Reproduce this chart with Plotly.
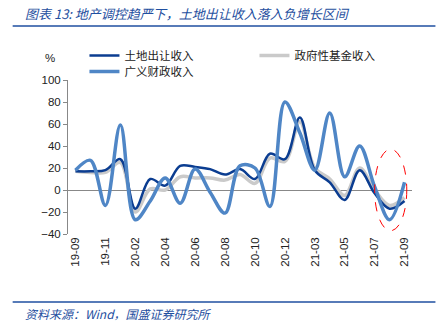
import plotly.graph_objects as go

months = ["19-09", "19-10", "19-11", "19-12", "20-02", "20-03", "20-04", "20-05",
          "20-06", "20-07", "20-08", "20-09", "20-10", "20-11", "20-12", "21-02",
          "21-03", "21-04", "21-05", "21-06", "21-07", "21-08", "21-09"]
land = [17, 17, 18, 28, -17, 10, 4, 22, 21, 19, 14, 19, 10, 33, 28, 66,
        18, 7, -9, 18, -3, -17, -10]
fund = [17, 16, 16, 25, -20, 1, 0, 12, 11, 11, 9, 14, 6, 29, 26, 62,
        20, 10, -5, 20, 0, -14, -7]
broad = [18, 27, -14, 59, -27, -10, 11, -12, 19, -2, -21, 22, 20, -15, 80, 52,
         18, 70, 12, 40, 3, -27, 7]
tick_labels = months[::2]

C_DARK = "#0B3D91"
C_GRAY = "#CACACA"
C_LIGHT = "#4F86C6"
C_TEXT_BLUE = "#1F4FA0"
CJK = "Noto Sans CJK SC"

fig = go.Figure()
fig.add_trace(go.Scatter(x=months, y=fund, name="政府性基金收入", mode="lines",
                         line=dict(color=C_GRAY, width=3.5, shape="spline"),
                         legend="legend", legendrank=2))
fig.add_trace(go.Scatter(x=months, y=land, name="土地出让收入", mode="lines",
                         line=dict(color=C_DARK, width=2.5, shape="spline"),
                         legend="legend", legendrank=1))
fig.add_trace(go.Scatter(x=months, y=broad, name="广义财政收入", mode="lines",
                         line=dict(color=C_LIGHT, width=3.5, shape="spline"),
                         legend="legend2"))

L, R, T, B = 67.5, 29.5, 80, 96
PW, PH = 442 - L - R, 330 - T - B

def px(xp):
    return (xp - L) / PW

def py(yp):
    return 1 - (yp - T) / PH

leg_common = dict(orientation="h", xanchor="left", yanchor="top",
                  font=dict(family=CJK, size=11.5, color="#222"),
                  entrywidth=125, entrywidthmode="pixels", bgcolor="rgba(0,0,0,0)",
                  itemwidth=30, tracegroupgap=0)

fig.update_layout(
    width=442, height=330,
    margin=dict(l=L, r=R, t=T, b=B),
    paper_bgcolor="white", plot_bgcolor="white",
    font=dict(family="Liberation Sans, Arial", size=11, color="#222"),
    showlegend=True,
    legend=dict(x=px(84), y=py(41), **leg_common),
    legend2=dict(x=px(84), y=py(57), **leg_common),
    xaxis=dict(type="category", range=[-0.5, 22.5], showgrid=False, showline=False,
               zeroline=False, ticks="", tickangle=-90, tickmode="array",
               tickvals=tick_labels, ticktext=tick_labels,
               tickfont=dict(size=11.5, color="#222")),
    yaxis=dict(range=[-40, 100], dtick=20, showgrid=False, showline=True,
               linecolor="#888", linewidth=1, ticks="outside", ticklen=4,
               tickcolor="#888", zeroline=True, zerolinecolor="#888", zerolinewidth=1,
               tickfont=dict(size=11.5, color="#222")),
)

fig.add_shape(type="circle", xref="x", yref="y", x0=20.0, x1=22.15, y0=-37, y1=37,
              line=dict(color="red", width=1, dash="dash"))
fig.add_shape(type="line", xref="paper", yref="paper", x0=px(12), x1=px(436),
              y0=py(26), y1=py(26), line=dict(color=C_TEXT_BLUE, width=1.5))
fig.add_shape(type="line", xref="paper", yref="paper", x0=px(12), x1=px(436),
              y0=py(302), y1=py(302), line=dict(color=C_TEXT_BLUE, width=1.5))

fig.add_annotation(xref="paper", yref="paper", x=px(22), y=py(13), xanchor="left",
                   yanchor="middle", showarrow=False,
                   text="<i>图表 13: 地产调控趋严下，土地出让收入落入负增长区间</i>",
                   font=dict(family=CJK, size=13, color=C_TEXT_BLUE))
fig.add_annotation(xref="paper", yref="paper", x=px(22), y=py(313), xanchor="left",
                   yanchor="middle", showarrow=False,
                   text="<i>资料来源：Wind，国盛证券研究所</i>",
                   font=dict(family=CJK, size=12, color=C_TEXT_BLUE))
fig.add_annotation(xref="paper", yref="paper", x=px(49), y=py(58), xanchor="center",
                   yanchor="middle", showarrow=False, text="%",
                   font=dict(size=11.5, color="#222"))

fig.write_html("out.html")
